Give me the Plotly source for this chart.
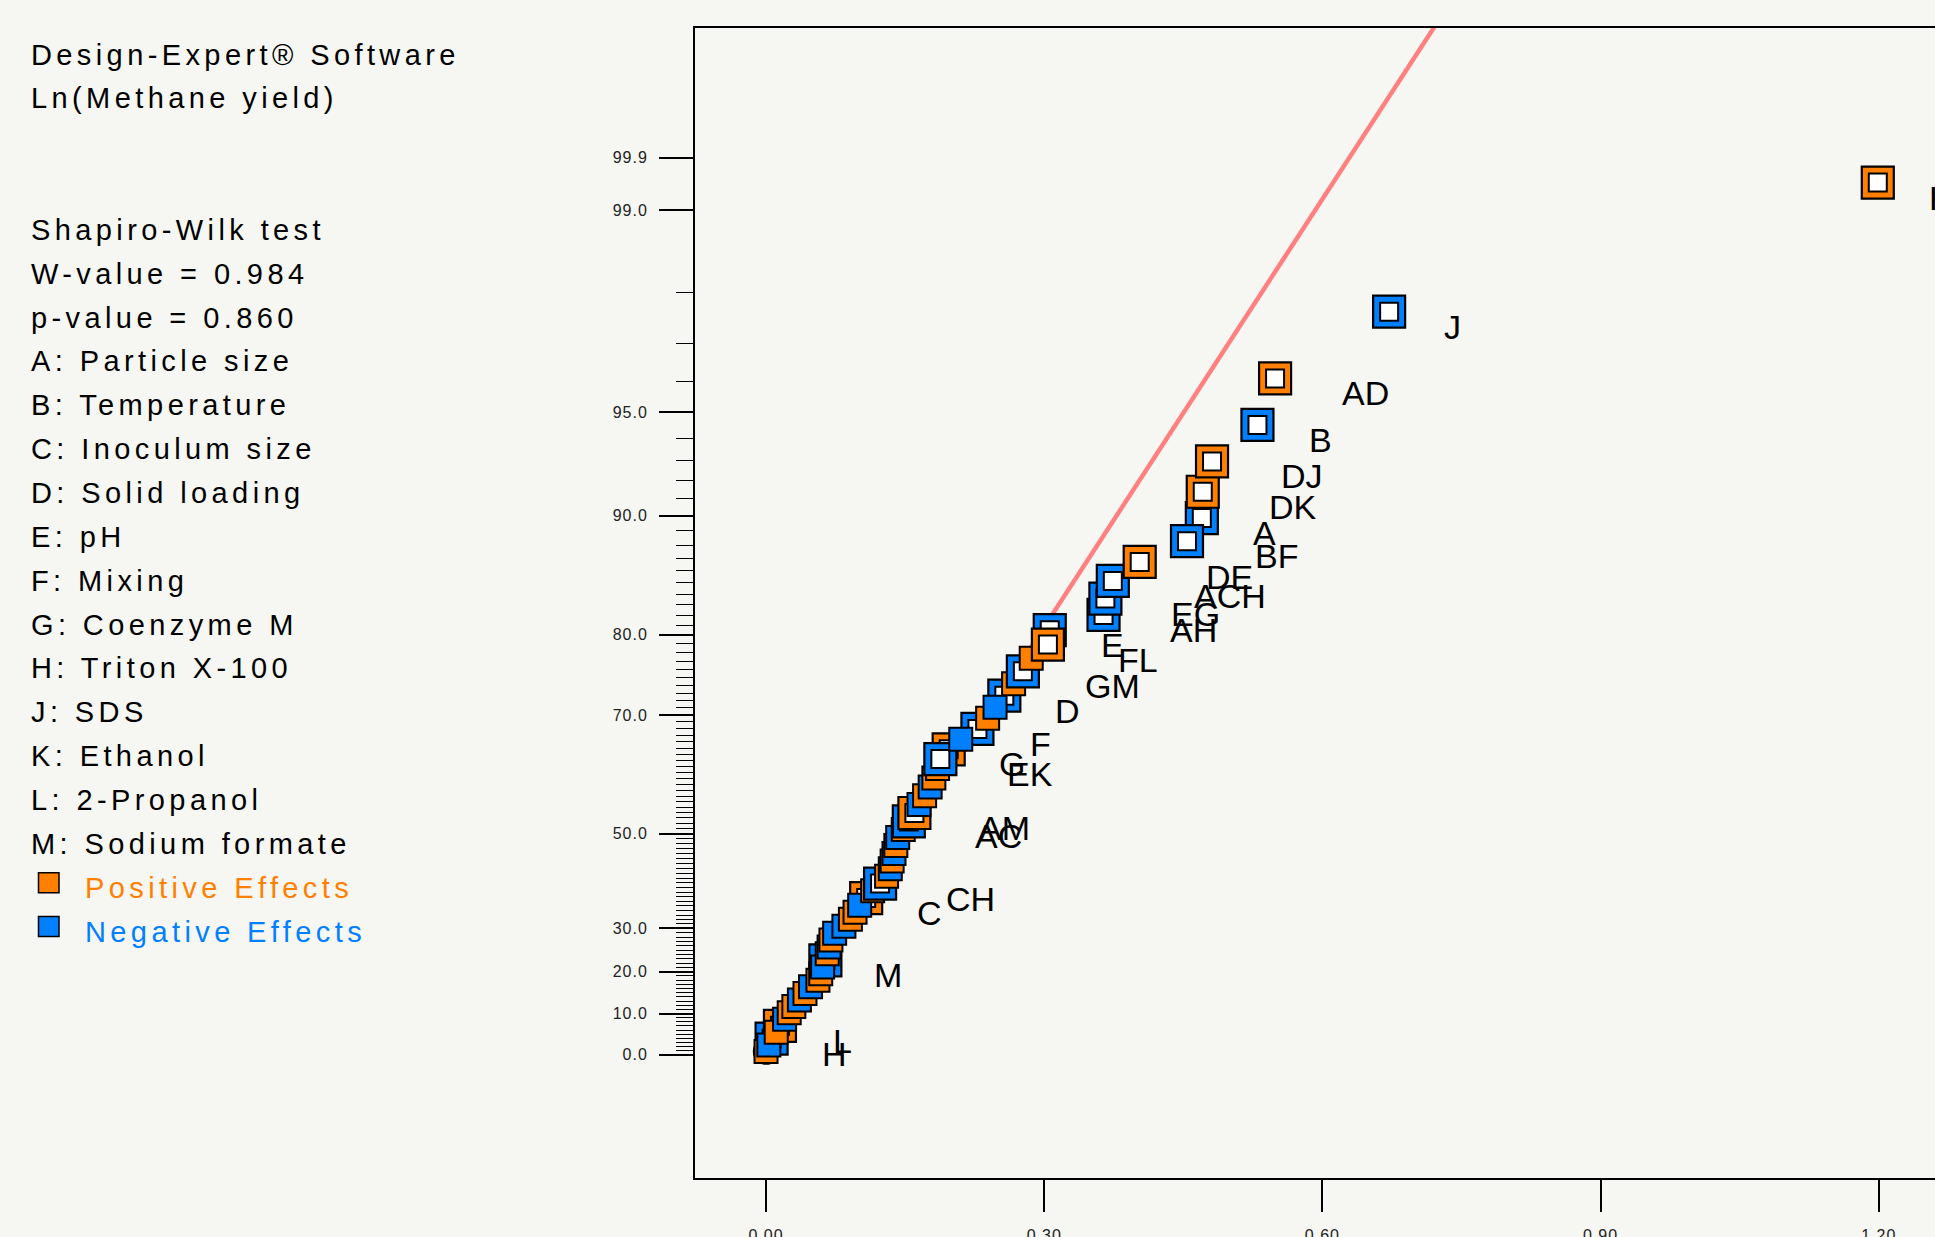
from statistics import NormalDist
import plotly.graph_objects as go

# ---------------------------------------------------------------------------
# Half-normal plot of the effects for Ln(Methane yield)
# effects are listed from smallest to largest |effect| (rank 1 .. 64)
# ---------------------------------------------------------------------------
effect_size = [
    0.000, 0.003, 0.006, 0.011, 0.015, 0.020, 0.025, 0.030, 0.036, 0.042,
    0.048, 0.056, 0.059, 0.061, 0.064, 0.066, 0.068, 0.070, 0.074, 0.084,
    0.091, 0.096, 0.101, 0.108, 0.115, 0.123, 0.130, 0.134, 0.136, 0.138,
    0.140, 0.142, 0.148, 0.154, 0.160, 0.165, 0.171, 0.177, 0.181, 0.185,
    0.188, 0.197, 0.210, 0.228, 0.239, 0.247, 0.257, 0.267, 0.277, 0.286,
    0.304, 0.306, 0.364, 0.366, 0.374, 0.403, 0.454, 0.470, 0.471, 0.481,
    0.530, 0.549, 0.672, 1.199,
]

# half-normal % probability of each ranked effect
half_normal_pct = [
    0.78, 2.34, 3.91, 5.47, 7.03, 8.59, 10.16, 11.72, 13.28, 14.84,
    16.41, 17.97, 19.53, 21.09, 22.66, 24.22, 25.78, 27.34, 28.91, 30.47,
    32.03, 33.59, 35.16, 36.72, 38.28, 39.84, 41.41, 42.97, 44.53, 46.09,
    47.66, 49.22, 50.78, 52.34, 53.91, 55.47, 57.03, 58.59, 60.16, 61.72,
    63.28, 64.84, 66.41, 67.97, 69.53, 71.09, 72.66, 74.22, 75.78, 77.34,
    78.91, 80.47, 82.03, 83.59, 85.16, 86.72, 88.28, 89.84, 91.41, 92.97,
    94.53, 96.09, 97.66, 99.22,
]

# sign of each effect: "+" positive, "-" negative
effect_sign = [
    "+", "-", "-", "+", "+", "-", "+", "+", "-", "+",
    "-", "+", "+", "-", "-", "+", "-", "+", "-", "-",
    "+", "+", "-", "+", "+", "-", "+", "-", "+", "-",
    "+", "-", "+", "-", "+", "-", "+", "-", "+", "+",
    "-", "+", "-", "-", "+", "-", "-", "+", "-", "+",
    "+", "-", "-", "-", "-", "+", "-", "-", "+", "+",
    "-", "+", "-", "+",
]

# model terms (empty string = term left in the error estimate)
term_label = [
    "", "", "H", "", "L", "", "", "", "", "",
    "", "", "", "", "M", "", "", "", "", "",
    "", "", "", "C", "", "CH", "", "", "", "",
    "", "", "", "AC", "AM", "", "", "", "", "",
    "EK", "G", "", "F", "", "", "D", "", "GM", "",
    "FL", "E", "AH", "EG", "ACH", "DE", "BF", "A", "DK", "DJ",
    "B", "AD", "J", "K",
]

# reference line through the origin
fit_line_effect = [0.0, 0.80]
fit_line_slope = 4.35

# probability axis ticks
y_tick_pct = [0.0, 10.0, 20.0, 30.0, 50.0, 70.0, 80.0, 90.0, 95.0, 99.0, 99.38]
y_tick_text = ["0.0", "10.0", "20.0", "30.0", "50.0", "70.0", "80.0",
               "90.0", "95.0", "99.0", "99.9"]
y_minor_pct = [p for p in range(1, 99) if p not in (10, 20, 30, 50, 70, 80, 90, 95)]

x_tick_vals = [0.0, 0.30, 0.60, 0.90, 1.20]
x_tick_text = ["0.00", "0.30", "0.60", "0.90", "1.20"]

info_lines = [
    "Design-Expert® Software",
    "Ln(Methane yield)",
    "",
    "",
    "Shapiro-Wilk test",
    "W-value = 0.984",
    "p-value = 0.860",
    "A: Particle size",
    "B: Temperature",
    "C: Inoculum size",
    "D: Solid loading",
    "E: pH",
    "F: Mixing",
    "G: Coenzyme M",
    "H: Triton X-100",
    "J: SDS",
    "K: Ethanol",
    "L: 2-Propanol",
    "M: Sodium formate",
]
legend_items = [("Positive Effects", "#FF8000"), ("Negative Effects", "#0080FF")]

# ---------------------------------------------------------------------------
ORANGE = "#FF8000"
BLUE = "#0080FF"
BG = "#F6F7F2"
FONT = "Liberation Sans, Arial, sans-serif"
W, H = 1935, 1237

nd = NormalDist()


def hn_quantile(pct):
    """Half-normal quantile for a cumulative % probability."""
    return nd.inv_cdf(0.5 + pct / 200.0)


def spaced(text, px):
    return f"<span style='letter-spacing:{px}px'>{text}</span>"


ys = [hn_quantile(p) for p in half_normal_pct]

# drawing order: main effects first, then the remaining terms by rank
order = [i for i, t in enumerate(term_label) if len(t) == 1]
order += [i for i in range(len(effect_size)) if i not in order]

mx, my, msize, mcolor, mline = [], [], [], [], []
for i in order:
    col = ORANGE if effect_sign[i] == "+" else BLUE
    if term_label[i]:
        mx += [effect_size[i], effect_size[i]]
        my += [ys[i], ys[i]]
        msize += [32, 18]
        mcolor += [col, "#FFFFFF"]
        mline += [2.2, 2.0]
    else:
        mx.append(effect_size[i])
        my.append(ys[i])
        msize.append(23)
        mcolor.append(col)
        mline.append(2.0)

fig = go.Figure()

fig.add_trace(go.Scatter(
    x=fit_line_effect,
    y=[fit_line_slope * e for e in fit_line_effect],
    mode="lines",
    line=dict(color="#FF8080", width=4.5),
    hoverinfo="skip",
    showlegend=False,
))

# marker hidden at the origin
fig.add_trace(go.Scatter(
    x=[effect_size[0]], y=[ys[0]],
    mode="markers",
    marker=dict(symbol="circle", size=25, color="#8E4A3E", opacity=1,
                line=dict(color="#000000", width=1.5)),
    hoverinfo="skip", showlegend=False,
))

fig.add_trace(go.Scatter(
    x=mx, y=my,
    mode="markers",
    marker=dict(symbol="square", size=msize, color=mcolor, opacity=1,
                line=dict(color="#000000", width=mline)),
    hoverinfo="skip", showlegend=False,
))

annotations = []
for i, t in enumerate(term_label):
    if not t:
        continue
    annotations.append(dict(
        x=effect_size[i], y=ys[i], xref="x", yref="y",
        text=t, showarrow=False,
        xanchor="center", yanchor="middle",
        xshift=36 + 27 * len(t), yshift=-15,
        font=dict(family=FONT, size=34, color="#000000"),
    ))

# information panel on the left
line_y0, line_dy = 54.5, 43.85
for k, txt in enumerate(info_lines):
    if not txt:
        continue
    annotations.append(dict(
        x=29.3 / W, y=1 - (line_y0 + k * line_dy) / H,
        xref="paper", yref="paper",
        text=spaced(txt, 4.4), showarrow=False,
        xanchor="left", yanchor="middle",
        font=dict(family=FONT, size=29, color="#000000"),
    ))

shapes = []
for k, (txt, col) in enumerate(legend_items):
    yc = line_y0 + (len(info_lines) + k) * line_dy
    annotations.append(dict(
        x=83.3 / W, y=1 - yc / H, xref="paper", yref="paper",
        text=spaced(txt, 4.4), showarrow=False,
        xanchor="left", yanchor="middle",
        font=dict(family=FONT, size=29, color=col),
    ))
    shapes.append(dict(
        type="rect", xref="paper", yref="paper",
        x0=38.5 / W, x1=59.0 / W,
        y0=1 - (yc - 5 + 10) / H, y1=1 - (yc - 5 - 10) / H,
        fillcolor=col, line=dict(color="#000000", width=1.5),
    ))

fig.update_layout(
    width=W, height=H,
    margin=dict(l=0, r=0, t=0, b=0),
    paper_bgcolor=BG, plot_bgcolor=BG,
    template="none",
    showlegend=False,
    annotations=annotations,
    shapes=shapes,
    xaxis=dict(
        domain=[695 / W, 1.0],
        range=[-0.0766, 1.2607],
        showline=True, linecolor="#000000", linewidth=2, mirror=True,
        ticks="outside", ticklen=32, tickwidth=1.5, tickcolor="#000000",
        tickmode="array", tickvals=x_tick_vals,
        ticktext=[spaced(t, 1) for t in x_tick_text],
        tickfont=dict(family=FONT, size=16, color="#222222"),
        ticklabelstandoff=10,
        showgrid=False, zeroline=False, automargin=False,
    ),
    yaxis=dict(
        domain=[1 - 1178 / H, 1 - 28 / H],
        range=[-0.3761, 3.1321],
        showline=True, linecolor="#000000", linewidth=2, mirror=False,
        ticks="outside", ticklen=34, tickwidth=1.5, tickcolor="#000000",
        tickmode="array",
        tickvals=[hn_quantile(p) for p in y_tick_pct],
        ticktext=[spaced(t, 1) for t in y_tick_text],
        tickfont=dict(family=FONT, size=16, color="#222222"),
        ticklabelstandoff=8,
        minor=dict(tickmode="array",
                   tickvals=[hn_quantile(p) for p in y_minor_pct],
                   ticks="outside", ticklen=17, tickwidth=1,
                   tickcolor="#000000", showgrid=False),
        showgrid=False, zeroline=False, automargin=False,
    ),
)

fig.write_html("out.html")
